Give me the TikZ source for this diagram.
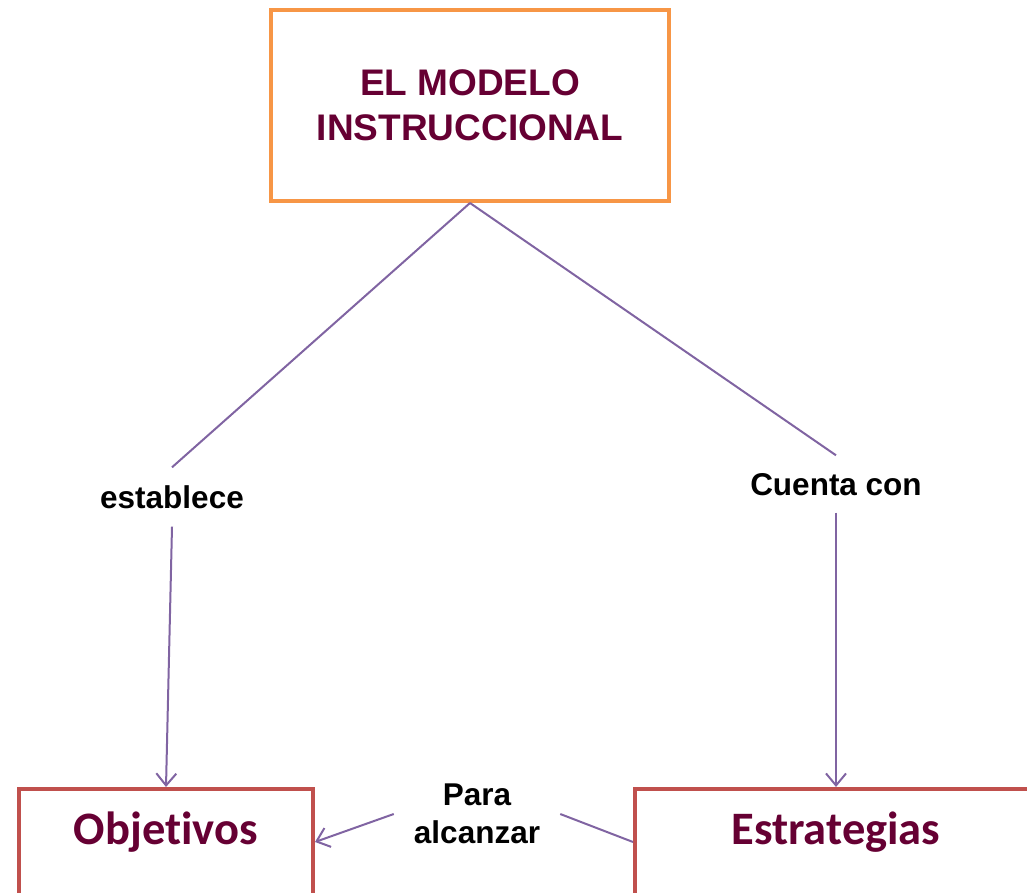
\documentclass[tikz,border=0pt]{standalone}
\usepackage{fontspec}
\setmainfont{Liberation Sans}
\newfontfamily\calfont[Ligatures=NoCommon]{Carlito}
\usetikzlibrary{arrows.meta}
\definecolor{boxorange}{HTML}{F79646}
\definecolor{boxred}{HTML}{C0504D}
\definecolor{maroon}{HTML}{660033}
\definecolor{linkpurple}{HTML}{8064A2}
\tikzset{
  titlebox/.style={draw=boxorange, line width=4pt, minimum width=398pt, minimum height=191pt,
    align=center, text=maroon, font=\fontsize{37}{45}\selectfont\bfseries},
  conceptbox/.style={draw=boxred, line width=4pt, inner sep=0pt, text height=55pt, text depth=51pt,
    text=maroon, font=\calfont\fontsize{46.5}{50}\selectfont\bfseries},
  linklabel/.style={font=\fontsize{31.5}{38}\selectfont\bfseries, align=center, text=black,
    text height=26pt, text depth=3pt},
  link/.style={draw=linkpurple, line width=2pt},
  linkarrow/.style={link, -{Straight Barb[length=12pt,width=20pt,line width=2pt]}}
}
\begin{document}
\begin{tikzpicture}[x=1pt,y=-1pt]
\useasboundingbox (0,0) rectangle (1027,893);
\node[titlebox] (T) at (470,105.5) {EL MODELO\\INSTRUCCIONAL};
\node[conceptbox, minimum width=294pt] (Obj) at (166,842) {Objetivos};
\node[conceptbox, minimum width=402pt] (Str) at (836,842) {Estrategias};
\node[linklabel, inner xsep=4pt, inner ysep=15pt] (L1) at (172,497) {establece};
\node[linklabel, inner xsep=4pt, inner ysep=14pt] (L2) at (836,484) {Cuenta con};
\node[font=\fontsize{31.5}{38}\selectfont\bfseries, align=center, inner xsep=20pt] (L3) at (477,814) {Para\\alcanzar};
\draw[link] (T.south) -- (L1.north);
\draw[linkarrow] (L1.south) -- (Obj.north);
\draw[link] (T.south) -- (L2.north);
\draw[linkarrow] (L2.south) -- (Str.north);
\draw[linkarrow] (L3.west) -- (Obj.east);
\draw[link] (L3.east) -- (Str.west);
\end{tikzpicture}
\end{document}
